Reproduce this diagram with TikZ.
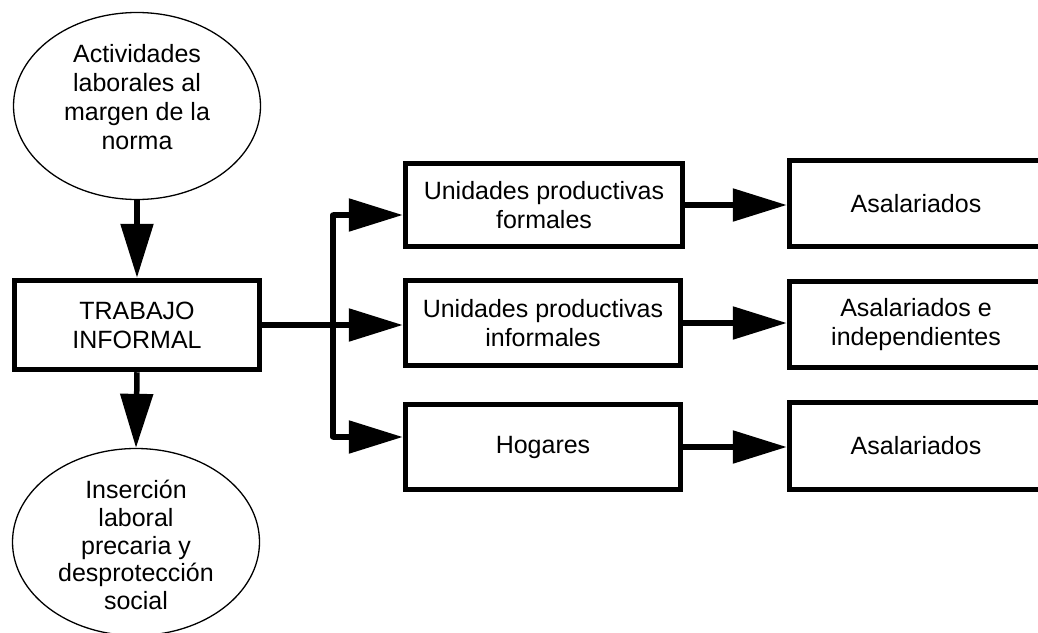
\documentclass[tikz,border=0pt]{standalone}
\usepackage{fontspec}
\setmainfont{Liberation Sans}
\usetikzlibrary{shapes.geometric,arrows.meta}
\begin{document}
\begin{tikzpicture}[x=1pt,y=-1pt,
  every node/.style={font=\fontsize{25}{29}\selectfont, align=center, inner sep=0pt},
  oval/.style={ellipse, draw, line width=1.3pt, minimum width=247pt, minimum height=187pt},
  box/.style={rectangle, draw, line width=5.5pt},
  arr/.style={line width=5.5pt, -{Triangle[length=54pt,width=32pt]}},
  bus/.style={line width=5.5pt, line cap=round}]
\useasboundingbox (0,0) rectangle (1038,632);
% left column
\node[oval] (e1) at (137,106) {};
\node[font=\fontsize{25}{28.8}\selectfont] (e1t) at (137,97) {Actividades\\laborales al\\margen de la\\norma};
\node[box, minimum width=245pt, minimum height=89pt] (trab) at (137,325) {TRABAJO\\INFORMAL};
\node[oval] (e2) at (136,542) {};
\node[font=\fontsize{25}{27.6}\selectfont] (e2t) at (136,545) {Inserci\'on\\laboral\\precaria y\\desprotecci\'on\\social};
% middle column
\node[box, minimum width=277pt, minimum height=83pt] (u1) at (544,205) {Unidades productivas\\formales};
\node[box, minimum width=275pt, minimum height=85pt] (u2) at (543,323) {Unidades productivas\\informales};
\node[box, minimum width=275pt, minimum height=85pt] (hog) at (543,447) {Hogares};
% right column
\node[box, minimum width=253pt, minimum height=86pt] (r1) at (916,203.5) {Asalariados};
\node[box, minimum width=253pt, minimum height=86pt] (r2) at (916,324.5) {Asalariados e\\independientes};
\node[box, minimum width=253pt, minimum height=87pt] (r3) at (916,446) {Asalariados};
% connectors
\draw[arr] (e1.south) -- (trab.north);
\draw[arr] (trab.south) -- (e2.north);
\coordinate (bt) at (333,215);
\coordinate (bb) at (333,437);
\draw[bus] (bt) -- (bb);
\draw[arr] (bt) -- (bt -| u1.west);
\draw[arr] (bb) -- (bb -| hog.west);
\draw[arr] (trab.east) -- (trab.east -| u2.west);
\draw[arr] (u1.east) -- (u1.east -| r1.west);
\draw[arr, line cap=round] (u2.east) -- (u2.east -| r2.west);
\draw[arr] (hog.east) -- (hog.east -| r3.west);
\end{tikzpicture}
\end{document}
